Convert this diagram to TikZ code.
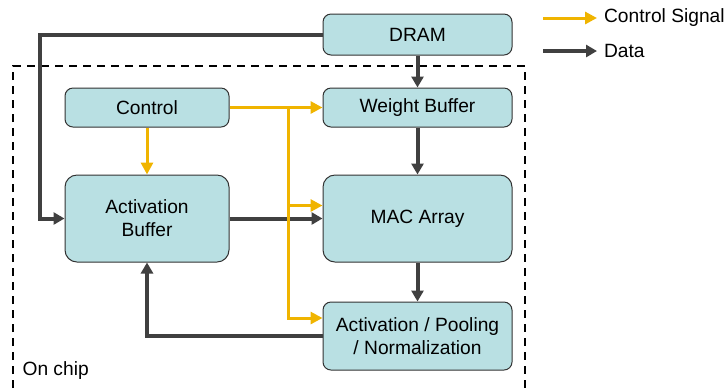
\documentclass[tikz,border=0pt]{standalone}
\usepackage{fontspec}
\setmainfont{Liberation Sans}
\usetikzlibrary{arrows.meta}

\begin{document}
\begin{tikzpicture}[x=0.5pt, y=-0.5pt,
  block/.style={draw=boxedge, line width=0.5pt, fill=paleteal, rounded corners=4pt, align=center, inner sep=0pt, font=\fontsize{9.6}{11.4}\selectfont},
  bigblock/.style={block, rounded corners=6pt, minimum height=43.5pt},
  data/.style={line width=2pt, datagray, -{Triangle[length=5.5pt,width=6pt]}},
  signal/.style={line width=1.5pt, signalyellow, -{Triangle[length=6pt,width=6pt]}},
  label/.style={anchor=west, font=\fontsize{9.6}{11.4}\selectfont}]

\definecolor{paleteal}{RGB}{185,224,227}
\definecolor{boxedge}{RGB}{50,50,50}
\definecolor{datagray}{RGB}{64,64,64}
\definecolor{signalyellow}{RGB}{240,180,0}

\useasboundingbox (0,0) rectangle (726,388);

% on chip region
\draw[line width=1pt, dash pattern=on 4pt off 3pt] (13,388) -- (13,66) -- (525,66) -- (525,388);
\node[label] (onchip) at (15.5,371) {On chip};

% blocks
\node[block, minimum width=94.5pt, minimum height=20.5pt] (dram) at (417.5,34.5) {DRAM};
\node[block, minimum width=82pt, minimum height=19.5pt] (control) at (147,107.5) {Control};
\node[block, minimum width=94.5pt, minimum height=19.5pt] (wbuf) at (417.5,107.5) {Weight Buffer};
\node[bigblock, minimum width=82pt] (abuf) at (147,218.5) {Activation\\Buffer};
\node[bigblock, minimum width=94.5pt] (mac) at (417.5,218.5) {MAC Array};
\node[block, minimum width=94.5pt, minimum height=34pt] (post) at (417.5,336) {Activation / Pooling\\/ Normalization};

\coordinate (offchip) at (40,34.5);
\coordinate (split) at (288,107.5);

% data paths
\draw[data] (dram.west) -- (offchip) |- (abuf.west);
\draw[data] (dram.south) -- (wbuf.north);
\draw[data] (wbuf.south) -- (mac.north);
\draw[data] (mac.south) -- (post.north);
\draw[data] (abuf.east) -- (mac.west);
\draw[data] (post.west) -| (abuf.south);

% control signals
\draw[signal] (control.east) -- (wbuf.west);
\draw[signal] (control.south) -- (abuf.north);
\draw[signal] (split) |- ([yshift=6.5pt]mac.west);
\draw[signal] (split) |- ([yshift=9pt]post.west);

% legend
\node[label] (lgsignal) at (597,18) {Control Signal};
\node[label] (lgdata) at (597,51) {Data};
\coordinate (lgsignalstart) at (543,18);
\coordinate (lgdatastart) at (543,51);
\draw[signal] (lgsignalstart) -- (lgsignal.west);
\draw[data] (lgdatastart) -- (lgdata.west);

\end{tikzpicture}
\end{document}
